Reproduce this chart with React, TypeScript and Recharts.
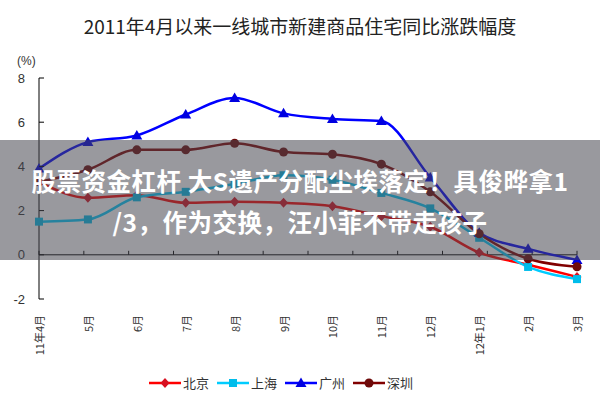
import React from "react";
import { LineChart, Line, XAxis, YAxis, ReferenceLine } from "recharts";

const months = ["11年4月", "5月", "6月", "7月", "8月", "9月", "10月", "11月", "12月", "12年1月", "2月", "3月"];
const beijing = [3.3, 2.58, 2.7, 2.35, 2.4, 2.35, 2.2, 1.75, 1.27, 0.1, -0.45, -1.0];
const shanghai = [1.5, 1.6, 2.6, 2.85, 3.2, 3.6, 3.4, 2.8, 2.1, 0.77, -0.55, -1.1];
const guangzhou = [3.9, 5.1, 5.4, 6.35, 7.1, 6.4, 6.15, 6.05, 3.5, 1.0, 0.27, -0.23];
const shenzhen = [3.3, 3.85, 4.75, 4.75, 5.05, 4.65, 4.55, 4.1, 2.85, 0.95, -0.18, -0.54];
const yTicks = [-2, 0, 2, 4, 6, 8];

const seriesNames = ["北京", "上海", "广州", "深圳"];
const seriesKeys = ["bj", "sh", "gz", "sz"];
const lineColors = ["#FF0000", "#00CCFF", "#0000FF", "#800000"];
const dotColors = ["#D81020", "#00BDEB", "#0000E0", "#6E0A0A"];
const markerKinds = ["diamond", "square", "triangle", "circle"];

const data = months.map((m, i) => ({
  m,
  bj: beijing[i],
  sh: shanghai[i],
  gz: guangzhou[i],
  sz: shenzhen[i],
}));

function Marker({ kind, cx, cy, fill }: { kind: string; cx: number; cy: number; fill: string }) {
  if (cx == null || cy == null) return null;
  if (kind === "diamond")
    return <path d={`M${cx},${cy - 5} L${cx + 4.5},${cy} L${cx},${cy + 5} L${cx - 4.5},${cy} Z`} fill={fill} />;
  if (kind === "square") return <rect x={cx - 4} y={cy - 4} width={8} height={8} fill={fill} />;
  if (kind === "triangle")
    return <path d={`M${cx},${cy - 5.5} L${cx + 5.5},${cy + 4} L${cx - 5.5},${cy + 4} Z`} fill={fill} />;
  return <circle cx={cx} cy={cy} r={4.5} fill={fill} />;
}

const font = "'Liberation Sans', Arial, sans-serif";
const cjk = "'Noto Sans CJK SC', 'Liberation Sans', sans-serif";

function YTick(props: any) {
  const { x, y, payload } = props;
  return (
    <g>
      <line x1={x} y1={y} x2={x + 5} y2={y} stroke="#000" strokeWidth={1} />
      <text x={x - 14} y={y} textAnchor="end" dominantBaseline="central" fontSize={13} fill="#333" fontFamily={font}>
        {payload.value}
      </text>
    </g>
  );
}

function XTick(props: any) {
  const { x, y, payload } = props;
  const ty = y + 16;
  return (
    <text
      x={x}
      y={ty}
      transform={`rotate(-90, ${x}, ${ty})`}
      textAnchor="end"
      dominantBaseline="central"
      fontSize={11}
      fill="#333"
      fontFamily={cjk}
    >
      {payload.value}
    </text>
  );
}

function ZeroLine(p: any) {
  const { x1, y1, x2 } = p;
  const n = months.length;
  const step = (x2 - x1) / n;
  const marks = [];
  for (let i = 0; i <= n; i++) {
    const xx = x1 + step * i;
    marks.push(<line key={i} x1={xx} y1={y1} x2={xx} y2={y1 - 4} stroke="#000" strokeWidth={1} />);
  }
  return (
    <g>
      <line x1={x1} y1={y1} x2={x2} y2={y1} stroke="#000" strokeWidth={1} />
      {marks}
    </g>
  );
}

function LegendBox() {
  return (
    <div
      style={{
        position: "absolute",
        left: 0,
        top: 373,
        width: 600,
        display: "flex",
        justifyContent: "center",
        alignItems: "center",
        paddingRight: 30,
        boxSizing: "border-box",
      }}
    >
      {seriesNames.map((n, i) => (
        <div key={n} style={{ display: "flex", alignItems: "center", marginRight: 8 }}>
          <svg width={32} height={14}>
            <line x1={0} y1={7} x2={32} y2={7} stroke={lineColors[i]} strokeWidth={2.5} />
            <Marker kind={markerKinds[i]} cx={16} cy={7} fill={dotColors[i]} />
          </svg>
          <span style={{ fontFamily: cjk, fontSize: 13, color: "#333", marginLeft: 2 }}>{n}</span>
        </div>
      ))}
    </div>
  );
}

export default function App() {
  return (
    <div style={{ position: "absolute", left: 0, top: 0, width: 600, height: 400, background: "#fff" }}>
      <div
        style={{
          position: "absolute",
          left: 0,
          top: 12,
          width: 600,
          textAlign: "center",
          fontFamily: cjk,
          fontSize: 19,
          color: "#222",
          lineHeight: "28px",
        }}
      >
        2011年4月以来一线城市新建商品住宅同比涨跌幅度
      </div>
      <div style={{ position: "absolute", left: 17, top: 54, fontFamily: font, fontSize: 12, color: "#333" }}>(%)</div>
      <LineChart width={600} height={400} data={data} margin={{ top: 78, right: 23, left: 0, bottom: 41 }}>
        <XAxis
          dataKey="m"
          axisLine={false}
          tickLine={false}
          tickSize={0}
          tickMargin={0}
          height={60}
          interval={0}
          tick={<XTick />}
        />
        <YAxis
          domain={[-2, 8]}
          ticks={yTicks}
          width={39}
          axisLine={{ stroke: "#000", strokeWidth: 1 }}
          tickLine={false}
          tickSize={0}
          tickMargin={0}
          tick={<YTick />}
        />
        <ReferenceLine y={0} shape={(p: any) => <ZeroLine {...p} />} />
        {seriesKeys.map((k, i) => (
          <Line
            key={k}
            type="monotone"
            dataKey={k}
            name={seriesNames[i]}
            stroke={lineColors[i]}
            strokeWidth={2.5}
            isAnimationActive={false}
            dot={(p: any) => <Marker key={`${k}-${p.index}`} kind={markerKinds[i]} cx={p.cx} cy={p.cy} fill={dotColors[i]} />}
            activeDot={false}
          />
        ))}
      </LineChart>
      <LegendBox />
      <div
        style={{
          position: "absolute",
          left: 0,
          top: 140,
          width: 600,
          height: 120,
          background: "rgba(70,70,78,0.55)",
          color: "#fff",
          fontFamily: cjk,
          fontWeight: 700,
          fontSize: 24.5,
          lineHeight: "41px",
          textAlign: "center",
          paddingTop: 20,
          boxSizing: "border-box",
          letterSpacing: 0.5,
          whiteSpace: "nowrap",
        }}
      >
        股票资金杠杆 大S遗产分配尘埃落定！具俊晔拿1
        <br />
        /3，作为交换，汪小菲不带走孩子
      </div>
    </div>
  );
}
